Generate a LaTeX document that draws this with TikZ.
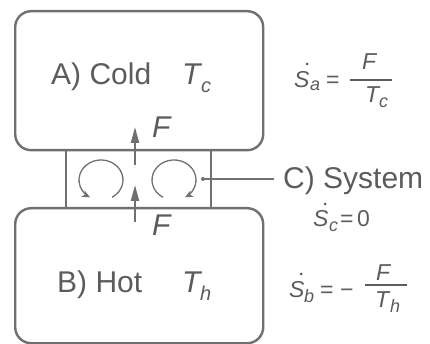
\documentclass[tikz,border=0pt]{standalone}
\usepackage{fontspec}
\setmainfont{Liberation Sans}
\usetikzlibrary{arrows.meta}
\definecolor{lineg}{RGB}{112,112,112}
\definecolor{textg}{RGB}{92,92,92}
\begin{document}
\begin{tikzpicture}[x=1pt,y=-1pt,
 boxst/.style={draw=lineg,line width=2.4pt,rounded corners=16pt,inner sep=0pt,anchor=north west},
 sysst/.style={draw=lineg,line width=2pt,inner sep=0pt,anchor=north west},
 lbl/.style={inner sep=0pt,anchor=base west,text=textg,font=\fontsize{30}{30}\selectfont},
 ilbl/.style={lbl,font=\fontsize{30}{30}\selectfont\itshape},
 isub/.style={inner sep=0pt,anchor=base west,text=textg,font=\fontsize{20}{20}\selectfont\itshape},
 esub/.style={isub,font=\fontsize{18}{18}\selectfont\itshape},
 eqt/.style={inner sep=0pt,anchor=base west,text=textg,font=\fontsize{23}{23}\selectfont},
 ieqt/.style={eqt,font=\fontsize{23}{23}\selectfont\itshape},
 farrow/.style={draw=lineg,line width=2pt,-{Triangle[length=16pt,width=8pt]}},
 carrow/.style={draw=lineg,line width=1.3pt,-{Stealth[length=8pt,width=7pt]}},
 fbar/.style={draw=textg,line width=1.4pt},
 sdot/.style={fill=textg,circle,inner sep=0pt,minimum size=3pt},
 ldot/.style={fill=lineg,circle,inner sep=0pt,minimum size=4pt}
]
\useasboundingbox (0,0) rectangle (430,344);
% boxes
\node[sysst,minimum width=145pt,minimum height=58pt] (sys) at (65,149) {};
\node[boxst,minimum width=248pt,minimum height=139pt] (cold) at (14,10) {};
\node[boxst,minimum width=248pt,minimum height=135pt] (hot) at (14,207) {};
% flow arrows
\coordinate (f1s) at (135,165);
\coordinate (f1e) at (135,127);
\coordinate (f2s) at (135,222);
\coordinate (f2e) at (135,185);
\draw[farrow] (f1s) -- (f1e);
\draw[farrow] (f2s) -- (f2e);
% circulation arrows
\coordinate (c1s) at (112,197.3);
\coordinate (c2s) at (163,197.3);
\draw[carrow] (c1s) arc[start angle=60,end angle=-240,x radius=22,y radius=20];
\draw[carrow] (c2s) arc[start angle=120,end angle=420,x radius=22,y radius=20];
% system pointer
\node[ldot] (sysdot) at (203,179) {};
\coordinate (cend) at (274,179);
\draw[draw=lineg,line width=1.2pt] (sysdot) -- (cend);
% labels
\node[lbl] (lA) at (51,85) {A) Cold};
\node[ilbl] (lTc) at (182,85) {T};
\node[isub] (lTcs) at (201,93) {c};
\node[lbl] (lB) at (57,292) {B) Hot};
\node[ilbl] (lTh) at (182,292) {T};
\node[isub] (lThs) at (200,300) {h};
\node[ilbl] (lF1) at (152,138) {F};
\node[ilbl] (lF2) at (152,236) {F};
\node[lbl] (csys) at (283,189) {C) System};
% equation a
\node[ieqt] (Sa) at (294,88) {S};
\node[sdot] (Sadot) at (307,64) {};
\node[esub] (Sas) at (310,91) {a};
\node[eqt] (Saeq) at (326,88) {=};
\coordinate (fa1) at (350,80);
\coordinate (fa2) at (392,80);
\draw[fbar] (fa1) -- (fa2);
\node[ieqt] (Fa) at (362,70) {F};
\node[ieqt] (Ta) at (365,103) {T};
\node[esub] (Tas) at (379,108) {c};
% equation c
\node[ieqt] (Sc) at (313,227) {S};
\node[sdot] (Scdot) at (325,204) {};
\node[esub] (Scs) at (329,232) {c};
\node[eqt] (Sceq) at (340,227) {=};
\node[eqt] (Sc0) at (357,227) {0};
% equation b
\node[ieqt] (Sb) at (289,297) {S};
\node[sdot] (Sbdot) at (301,274) {};
\node[esub] (Sbs) at (304,302) {b};
\node[eqt] (Sbeq) at (320,297) {=};
\node[eqt] (Sbm) at (340,297) {−};
\coordinate (fb1) at (365,285);
\coordinate (fb2) at (407,285);
\draw[fbar] (fb1) -- (fb2);
\node[ieqt] (Fb) at (376,280) {F};
\node[ieqt] (Tb) at (375,307) {T};
\node[esub] (Tbs) at (390,312) {h};
\end{tikzpicture}
\end{document}
